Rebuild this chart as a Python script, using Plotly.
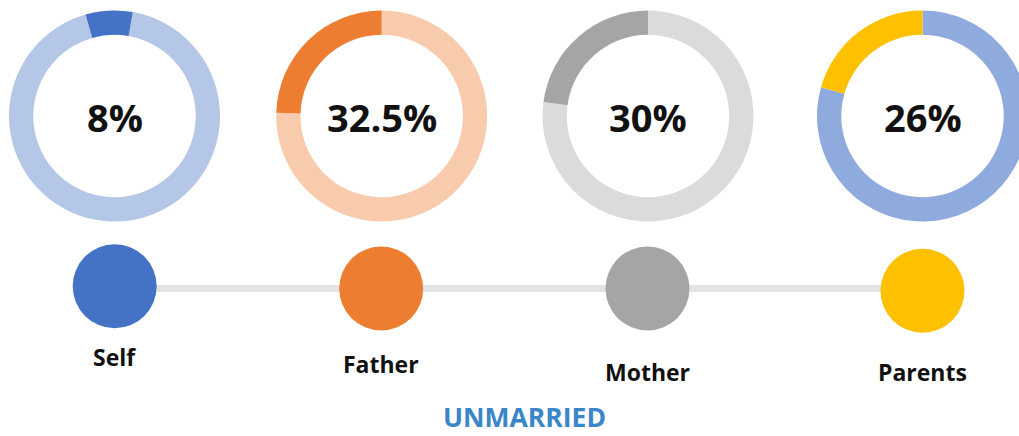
import plotly.graph_objects as go

# ---------------- data ----------------
categories = ["Self", "Father", "Mother", "Parents"]
center_labels = ["8%", "32.5%", "30%", "26%"]
ring_filled = [7.2, 24.5, 22.9, 20.6]      # highlighted share of each ring
ring_rest = [92.8, 75.5, 77.1, 79.4]       # remaining share of each ring
title_text = "UNMARRIED"

# ---------------- styles / positions ----------------
strong_colors = ["#4472C4", "#ED7D31", "#A5A5A5", "#FFC000"]
light_colors = ["#B4C7E7", "#F8CBAD", "#DBDBDB", "#8FAADC"]
ring_rotation = [10, 0, 0, 0]

W, H = 1040, 436          # paper slightly wider than the window: last ring is cut at the right edge
ring_cx = [114.5, 381.7, 648.0, 922.5]
ring_cy = 116.0
ring_r = 105.5
ring_hole = 0.77

dot_x = [114.7, 381.2, 647.5, 922.5]
dot_y = [286.2, 288.5, 288.5, 290.8]
dot_size = 84
label_y = [357, 363.5, 371.5, 371.5]

font_family = "Open Sans, Lato, DejaVu Sans, sans-serif"

fig = go.Figure()

# connecting line behind the dots
fig.add_trace(go.Scatter(
    x=[dot_x[0], dot_x[-1]], y=[288.6, 288.6], mode="lines",
    line=dict(color="#E3E3E3", width=7), hoverinfo="skip", showlegend=False,
))
# dots
fig.add_trace(go.Scatter(
    x=dot_x, y=dot_y, mode="markers", text=categories,
    marker=dict(size=dot_size, color=strong_colors, line=dict(width=0), opacity=1),
    hoverinfo="text", showlegend=False,
))

# donut rings
for i, cat in enumerate(categories):
    fig.add_trace(go.Pie(
        values=[ring_rest[i], ring_filled[i]],
        labels=[cat + " other", cat],
        sort=False, direction="clockwise", rotation=ring_rotation[i],
        hole=ring_hole, textinfo="none", hoverinfo="label+value",
        marker=dict(colors=[light_colors[i], strong_colors[i]], line=dict(width=0)),
        domain=dict(
            x=[(ring_cx[i] - ring_r) / W, (ring_cx[i] + ring_r) / W],
            y=[(H - ring_cy - ring_r) / H, (H - ring_cy + ring_r) / H],
        ),
        showlegend=False,
    ))

annotations = []
for i, cat in enumerate(categories):
    annotations.append(dict(
        x=ring_cx[i], y=ring_cy + 1, xref="x", yref="y", text=center_labels[i],
        showarrow=False, xanchor="center", yanchor="middle",
        font=dict(family=font_family, size=38, color="#111111", weight="bold"),
    ))
    annotations.append(dict(
        x=dot_x[i], y=label_y[i], xref="x", yref="y", text=cat,
        showarrow=False, xanchor="center", yanchor="middle",
        font=dict(family=font_family, size=23, color="#111111", weight="bold"),
    ))
annotations.append(dict(
    x=524, y=436, xref="x", yref="y", text=title_text,
    showarrow=False, xanchor="center", yanchor="bottom", borderpad=0,
    font=dict(family=font_family, size=26.5, color="#3A86C8", weight="bold"),
))

fig.update_layout(
    width=W, height=H,
    margin=dict(l=0, r=0, t=0, b=0),
    paper_bgcolor="white", plot_bgcolor="white",
    xaxis=dict(range=[0, W], visible=False, fixedrange=True),
    yaxis=dict(range=[H, 0], visible=False, fixedrange=True),
    annotations=annotations,
    showlegend=False,
)

fig.write_html(
    "out.html",
    config={"displayModeBar": False},
    post_script="document.body.style.margin='0';document.body.style.overflow='hidden';",
)
